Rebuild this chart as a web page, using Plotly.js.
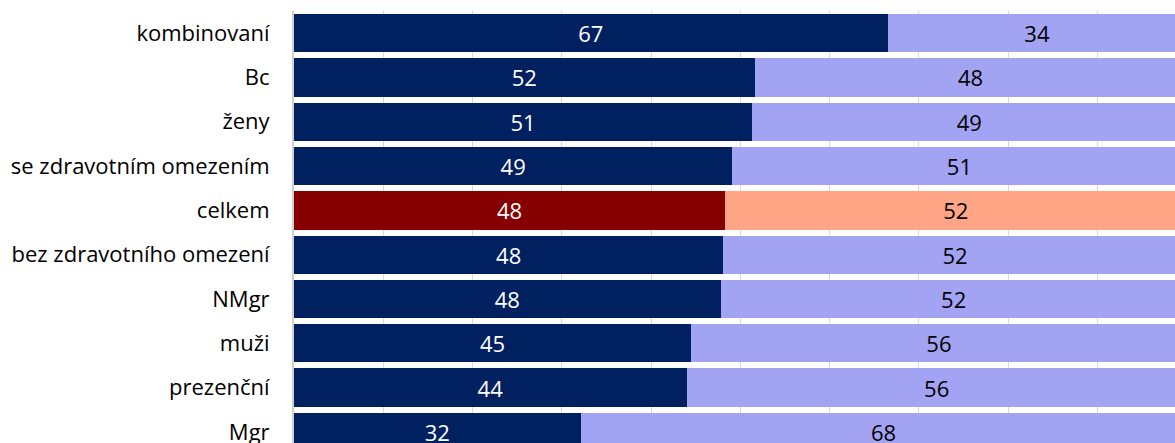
<!DOCTYPE html>
<html>
<head>
<meta charset="utf-8">
<script src="https://cdn.plot.ly/plotly-3.0.1.min.js"></script>
<style>html,body{margin:0;padding:0;background:#fff;}#chart{width:1175px;height:443px;}</style>
</head>
<body>
<div id="chart"></div>
<script>
// categories, top to bottom
var categories = ["kombinovaní", "Bc", "ženy", "se zdravotním omezením", "celkem",
  "bez zdravotního omezení", "NMgr", "muži", "prezenční", "Mgr"];
// first segment share (%)
var shareA = [66.5, 51.6, 51.3, 49.1, 48.3, 48.1, 47.8, 44.5, 44.0, 32.1];
// second segment share (%)
var shareB = [33.5, 48.4, 48.7, 50.9, 51.7, 51.9, 52.2, 55.5, 56.0, 67.9];
// data labels as printed
var labelA = ["67", "52", "51", "49", "48", "48", "48", "45", "44", "32"];
var labelB = ["34", "48", "49", "51", "52", "52", "52", "56", "56", "68"];

var highlight = "celkem";
var colA = categories.map(function (c) { return c === highlight ? "#860000" : "#002060"; });
var colB = categories.map(function (c) { return c === highlight ? "#FFA585" : "#A3A3F3"; });

var fontFam = "'Open Sans', 'Noto Sans', sans-serif";

var traces = [
  {
    type: "bar", orientation: "h", y: categories, x: shareA,
    text: labelA, textposition: "inside", insidetextanchor: "middle",
    textangle: 0, constraintext: "none",
    textfont: {color: "#ffffff", size: 22, family: fontFam},
    marker: {color: colA}, hoverinfo: "skip"
  },
  {
    type: "bar", orientation: "h", y: categories, x: shareB,
    text: labelB, textposition: "inside", insidetextanchor: "middle",
    textangle: 0, constraintext: "none",
    textfont: {color: "#000000", size: 22, family: fontFam},
    marker: {color: colB}, hoverinfo: "skip"
  }
];

var layout = {
  width: 1175, height: 443,
  margin: {l: 294, r: 0, t: 11, b: 0, pad: 0},
  barmode: "stack", bargap: 0.135,
  showlegend: false,
  paper_bgcolor: "#ffffff", plot_bgcolor: "#ffffff",
  font: {family: fontFam, size: 22, color: "#000000"},
  xaxis: {
    range: [0, 98.7], dtick: 10, tick0: 0,
    showgrid: true, gridcolor: "#D9D9D9", gridwidth: 1,
    zeroline: false, showline: false, showticklabels: false, ticks: ""
  },
  yaxis: {
    type: "category", range: [9.25, -0.5],
    showgrid: false, zeroline: false,
    showline: true, linecolor: "#D0D0D0", linewidth: 2,
    ticks: "", ticklabelstandoff: 18,
    tickfont: {size: 22, color: "#000000", family: fontFam}
  }
};

Plotly.newPlot("chart", traces, layout, {staticPlot: true, displayModeBar: false});
</script>
</body>
</html>
